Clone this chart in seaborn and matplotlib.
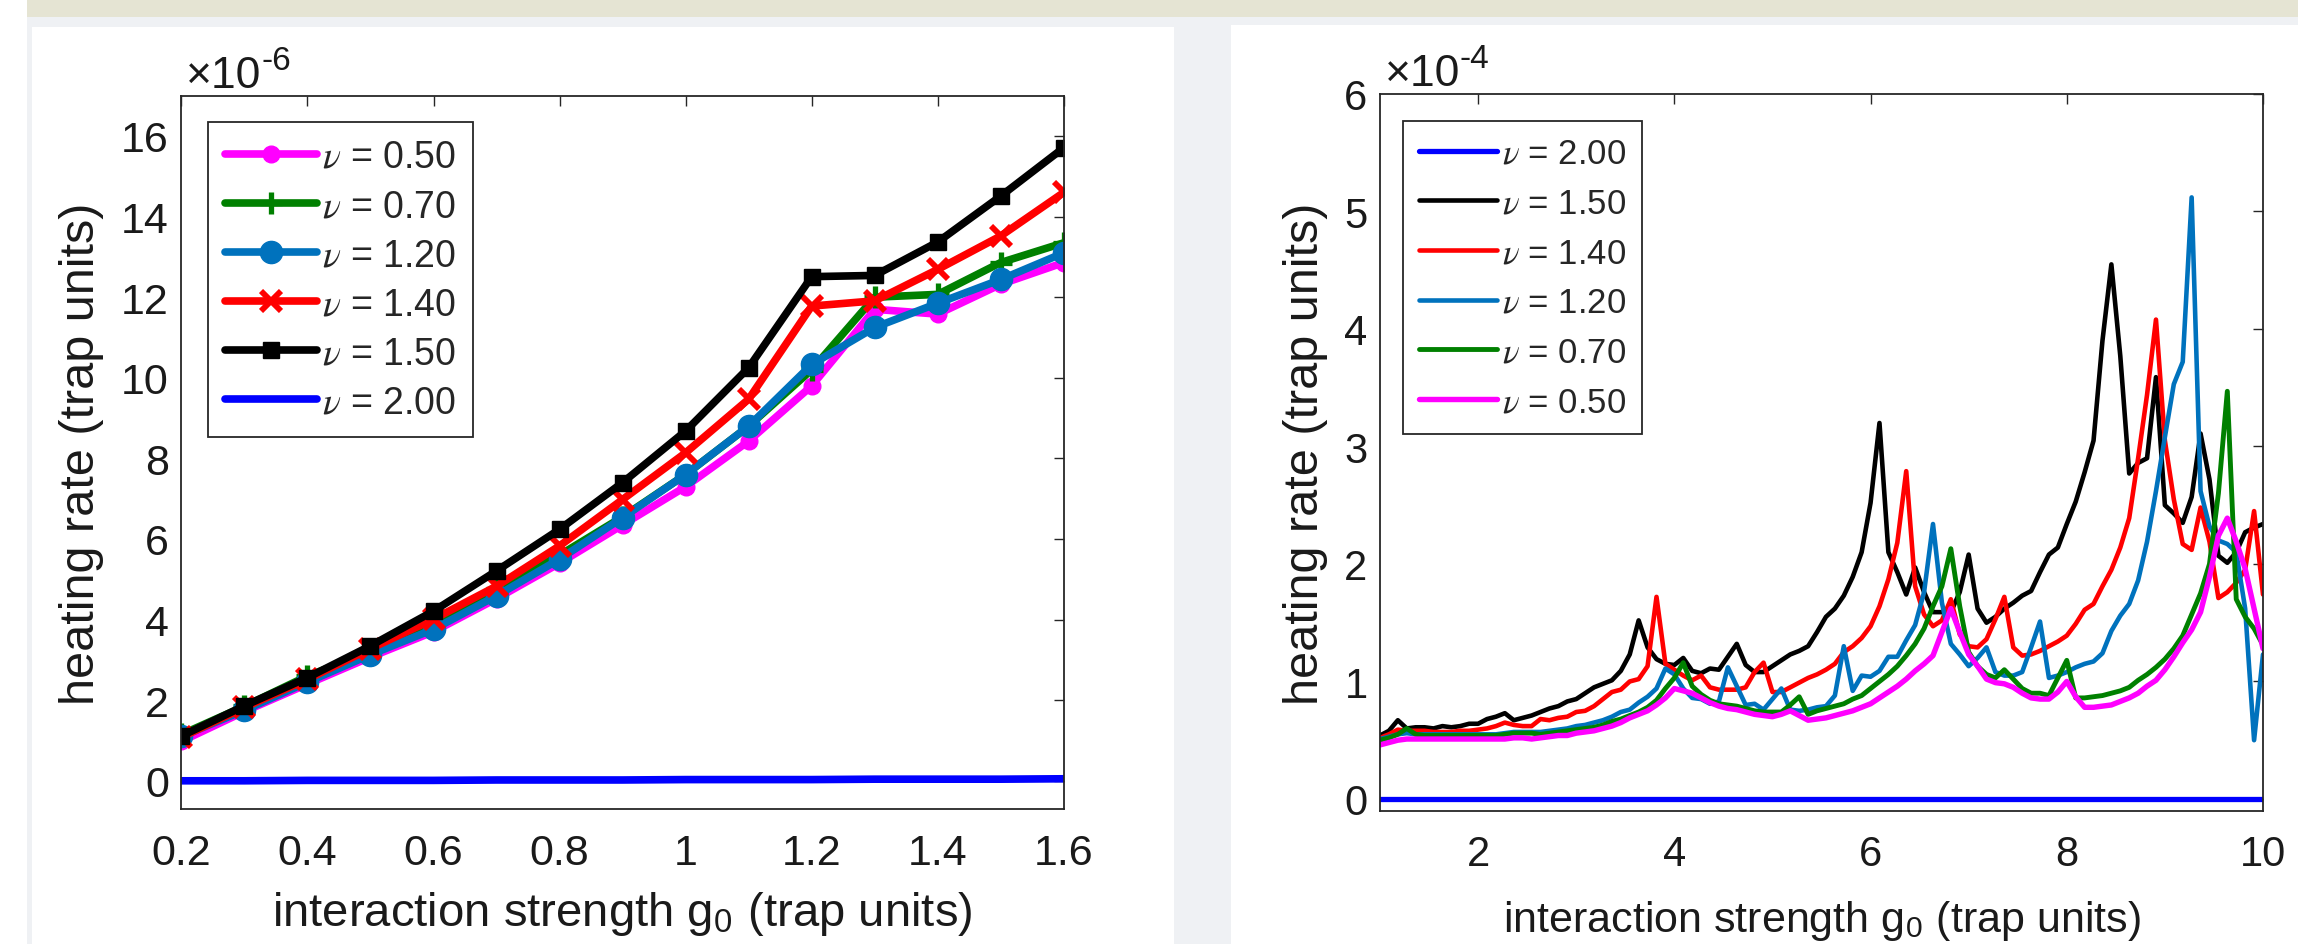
import numpy as np
import matplotlib
matplotlib.use("Agg")
import matplotlib.pyplot as plt
from matplotlib.patches import Rectangle
import seaborn as sns

# ---- left panel: heating rate (x1e-6, trap units) vs interaction strength g0
g_left = [0.2, 0.3, 0.4, 0.5, 0.6, 0.7, 0.8, 0.9, 1.0, 1.1, 1.2, 1.3, 1.4, 1.5, 1.6]
left_nu050 = [0.98, 1.72, 2.40, 3.07, 3.70, 4.52, 5.40, 6.35, 7.30, 8.43, 9.80, 11.70, 11.58, 12.32, 12.86]
left_nu070 = [1.15, 1.85, 2.60, 3.20, 3.90, 4.75, 5.60, 6.55, 7.60, 8.80, 10.20, 12.00, 12.07, 12.86, 13.35]
left_nu120 = [1.10, 1.75, 2.45, 3.13, 3.76, 4.59, 5.50, 6.53, 7.60, 8.80, 10.33, 11.25, 11.85, 12.44, 13.10]
left_nu140 = [1.08, 1.82, 2.52, 3.28, 4.01, 4.83, 5.83, 6.98, 8.14, 9.47, 11.78, 11.91, 12.69, 13.52, 14.60]
left_nu150 = [1.11, 1.86, 2.56, 3.35, 4.21, 5.21, 6.24, 7.40, 8.68, 10.25, 12.51, 12.54, 13.37, 14.51, 15.71]
left_nu200 = [0.00, 0.00, 0.01, 0.01, 0.01, 0.02, 0.02, 0.02, 0.03, 0.03, 0.03, 0.04, 0.04, 0.04, 0.05]

# ---- right panel: heating rate (x1e-4, trap units), 100 samples of g0 in [1, 10]
g_right = np.linspace(1, 10, 100)
right_nu200 = [0.0] * 100  # flat at zero over the whole range
right_nu150 = [
    0.54, 0.58, 0.67, 0.60, 0.61, 0.61, 0.60, 0.62, 0.61, 0.62,
    0.64, 0.64, 0.68, 0.70, 0.73, 0.67, 0.69, 0.71, 0.74, 0.77,
    0.79, 0.83, 0.85, 0.90, 0.95, 0.98, 1.01, 1.09, 1.23, 1.52,
    1.29, 1.19, 1.15, 1.14, 1.20, 1.09, 1.07, 1.11, 1.10, 1.21,
    1.32, 1.14, 1.08, 1.08, 1.13, 1.18, 1.23, 1.26, 1.30, 1.42,
    1.55, 1.62, 1.73, 1.89, 2.10, 2.52, 3.20, 2.10, 1.93, 1.74,
    1.97, 1.76, 1.59, 1.59, 1.59, 1.76, 2.08, 1.62, 1.50, 1.55,
    1.62, 1.67, 1.73, 1.77, 1.93, 2.08, 2.14, 2.34, 2.53, 2.78,
    3.05, 3.90, 4.55, 3.77, 2.77, 2.86, 2.90, 3.59, 2.50, 2.43,
    2.35, 2.57, 3.11, 2.72, 2.07, 2.01, 2.10, 2.27, 2.31, 2.34]
right_nu140 = [
    0.52, 0.55, 0.59, 0.58, 0.58, 0.58, 0.57, 0.57, 0.57, 0.58,
    0.58, 0.59, 0.60, 0.62, 0.65, 0.63, 0.62, 0.62, 0.68, 0.67,
    0.69, 0.70, 0.74, 0.75, 0.79, 0.85, 0.91, 0.93, 1.00, 1.02,
    1.13, 1.72, 1.15, 1.10, 1.05, 1.01, 1.05, 0.95, 0.93, 0.93,
    0.93, 0.95, 1.08, 1.16, 0.91, 0.91, 0.95, 0.99, 1.03, 1.06,
    1.10, 1.15, 1.25, 1.30, 1.37, 1.47, 1.64, 1.87, 2.18, 2.79,
    1.81, 1.57, 1.47, 1.52, 1.70, 1.40, 1.30, 1.29, 1.36, 1.53,
    1.72, 1.29, 1.22, 1.23, 1.26, 1.30, 1.34, 1.39, 1.49, 1.61,
    1.66, 1.81, 1.95, 2.14, 2.39, 2.90, 3.44, 4.08, 3.05, 2.55,
    2.17, 2.12, 2.48, 2.19, 1.71, 1.76, 1.84, 1.95, 2.45, 1.74]
right_nu120 = [
    0.51, 0.53, 0.55, 0.56, 0.55, 0.55, 0.55, 0.55, 0.55, 0.55,
    0.55, 0.55, 0.55, 0.55, 0.56, 0.57, 0.57, 0.57, 0.57, 0.58,
    0.59, 0.60, 0.62, 0.63, 0.65, 0.67, 0.70, 0.74, 0.76, 0.82,
    0.87, 0.94, 1.11, 1.06, 0.94, 0.86, 0.85, 0.81, 0.83, 1.12,
    0.96, 0.80, 0.81, 0.76, 0.85, 0.94, 0.76, 0.75, 0.76, 0.78,
    0.79, 0.88, 1.30, 0.92, 1.05, 1.04, 1.09, 1.21, 1.21, 1.35,
    1.48, 1.76, 2.34, 1.67, 1.32, 1.23, 1.13, 1.20, 1.29, 1.08,
    1.05, 1.05, 1.08, 1.29, 1.51, 1.03, 1.05, 1.08, 1.12, 1.15,
    1.17, 1.24, 1.43, 1.56, 1.66, 1.86, 2.19, 2.62, 3.08, 3.53,
    3.72, 5.12, 2.62, 2.32, 2.20, 2.17, 2.10, 1.62, 0.50, 1.23]
right_nu070 = [
    0.50, 0.52, 0.55, 0.60, 0.55, 0.54, 0.54, 0.54, 0.54, 0.54,
    0.54, 0.54, 0.54, 0.54, 0.55, 0.56, 0.56, 0.56, 0.55, 0.56,
    0.57, 0.58, 0.59, 0.60, 0.61, 0.63, 0.66, 0.68, 0.71, 0.74,
    0.78, 0.84, 0.94, 1.03, 1.16, 0.96, 0.89, 0.84, 0.81, 0.80,
    0.79, 0.77, 0.75, 0.74, 0.74, 0.74, 0.80, 0.87, 0.72, 0.75,
    0.77, 0.79, 0.81, 0.85, 0.88, 0.94, 1.00, 1.06, 1.13, 1.22,
    1.32, 1.45, 1.64, 1.81, 2.13, 1.64, 1.25, 1.13, 1.06, 1.03,
    1.10, 1.02, 0.94, 0.90, 0.90, 0.88, 1.03, 1.18, 0.86, 0.86,
    0.87, 0.88, 0.90, 0.92, 0.95, 1.01, 1.06, 1.12, 1.19, 1.28,
    1.39, 1.57, 1.75, 2.00, 2.60, 3.47, 1.70, 1.55, 1.45, 1.31]
right_nu050 = [
    0.46, 0.48, 0.50, 0.51, 0.51, 0.51, 0.51, 0.51, 0.51, 0.51,
    0.51, 0.51, 0.51, 0.51, 0.51, 0.52, 0.52, 0.51, 0.52, 0.53,
    0.54, 0.54, 0.56, 0.57, 0.58, 0.60, 0.62, 0.65, 0.69, 0.72,
    0.75, 0.80, 0.86, 0.94, 0.92, 0.90, 0.86, 0.82, 0.79, 0.77,
    0.76, 0.74, 0.72, 0.71, 0.70, 0.72, 0.75, 0.71, 0.67, 0.68,
    0.69, 0.71, 0.73, 0.75, 0.78, 0.81, 0.86, 0.91, 0.96, 1.02,
    1.09, 1.15, 1.22, 1.42, 1.62, 1.42, 1.23, 1.13, 1.02, 0.99,
    0.98, 0.95, 0.90, 0.86, 0.85, 0.85, 0.91, 1.00, 0.87, 0.78,
    0.78, 0.79, 0.80, 0.83, 0.86, 0.90, 0.96, 1.01, 1.10, 1.21,
    1.33, 1.44, 1.59, 1.89, 2.24, 2.39, 2.19, 1.96, 1.62, 1.28]

MAGENTA, GREEN, MBLUE, RED, BLACK, BLUE = "#FF00FF", "#008000", "#0072BD", "#FF0000", "#000000", "#0000FF"
AX_COL = "#262626"
TXT_COL = "#1a1a1a"

sns.set_theme(style="white")
plt.rcParams["font.family"] = ["Liberation Sans", "DejaVu Sans"]
plt.rcParams["mathtext.fontset"] = "stix"

W, H = 2298, 945
fig = plt.figure(figsize=(W / 100, H / 100), dpi=100, facecolor="white")

# page background behind the two images
for x0, y0, w, h, c in [(27, 17.5, W - 27, H - 17.5, "#EFF1F4"),
                        (27, 0, W - 27, 17.5, "#E5E4D3"),
                        (32, 28, 1142, H - 28, "white"),
                        (1231, 26, W - 1231, H - 26, "white")]:
    fig.add_artist(Rectangle((x0 / W, 1 - (y0 + h) / H), w / W, h / H,
                             transform=fig.transFigure, color=c, zorder=-10, lw=0))

ax1 = fig.add_axes([181.4 / W, 1 - 810 / H, 882.4 / W, 713.3 / H])
ax2 = fig.add_axes([1380 / W, 1 - 811.7 / H, 883 / W, 716.7 / H])


def nu_label(v):
    return r"$\nu$ = " + v


left_series = [
    (left_nu050, MAGENTA, "0.50", dict(marker="o", markersize=12)),
    (left_nu070, GREEN, "0.70", dict(marker="+", markersize=16, markeredgewidth=3.8)),
    (left_nu120, MBLUE, "1.20", dict(marker="o", markersize=16)),
    (left_nu140, RED, "1.40", dict(marker="x", markersize=14, markeredgewidth=4.2)),
    (left_nu150, BLACK, "1.50", dict(marker="s", markersize=11.5)),
    (left_nu200, BLUE, "2.00", dict()),
]
for vals, col, lab, kw in left_series:
    sns.lineplot(x=g_left, y=vals, ax=ax1, color=col, label=nu_label(lab),
                 estimator=None, sort=False, markeredgecolor=col, **kw)
    line = ax1.lines[-1]
    line.set_linewidth(5.5)
    if "markeredgewidth" not in kw:
        line.set_markeredgewidth(1.0)

right_series = [
    (right_nu200, BLUE, "2.00", 3.8),
    (right_nu150, BLACK, "1.50", 3.3),
    (right_nu140, RED, "1.40", 3.3),
    (right_nu120, MBLUE, "1.20", 3.3),
    (right_nu070, GREEN, "0.70", 3.5),
    (right_nu050, MAGENTA, "0.50", 3.9),
]
for vals, col, lab, lw in right_series:
    sns.lineplot(x=g_right, y=vals, ax=ax2, color=col, label=nu_label(lab),
                 estimator=None, sort=False)
    ax2.lines[-1].set_linewidth(lw)

ax1.set_xlim(0.2, 1.6)
ax1.set_ylim(-0.7, 17)
ax1.set_xticks([0.2, 0.4, 0.6, 0.8, 1.0, 1.2, 1.4, 1.6])
ax1.set_xticklabels(["0.2", "0.4", "0.6", "0.8", "1", "1.2", "1.4", "1.6"])
ax1.set_yticks(range(0, 17, 2))

ax2.set_xlim(1, 10)
ax2.set_ylim(-0.1, 6)
ax2.set_xticks([2, 4, 6, 8, 10])
ax2.set_yticks(range(0, 7))

xlab = r"interaction strength g$_\mathregular{0}$ (trap units)"
panel_style = [
    # ax, tick size, xlabel size, xlabel pad, legend size, handle length, spacing, anchor, exponent
    (ax1, 31, 34, 12, 27, 2.45, 0.35, (0.030, 0.963), "-6"),
    (ax2, 30, 31, 17, 25, 2.25, 0.48, (0.026, 0.962), "-4"),
]
for ax, tsize, xsize, xpad, lsize, hlen, lspace, anchor, expo in panel_style:
    for s in ax.spines.values():
        s.set_visible(True)
        s.set_color(AX_COL)
        s.set_linewidth(1.3)
    ax.tick_params(direction="in", length=7, width=1.0, color=AX_COL, top=True, right=True,
                   labelsize=tsize, labelcolor=TXT_COL)
    ax.tick_params(axis="x", pad=17)
    ax.tick_params(axis="y", pad=9)
    ax.set_xlabel(xlab, fontsize=xsize, color=TXT_COL, labelpad=xpad)
    ax.set_ylabel("heating rate (trap units)", fontsize=35, color=TXT_COL, labelpad=12)
    leg = ax.legend(loc="upper left", bbox_to_anchor=anchor, borderaxespad=0, fontsize=lsize,
                    frameon=True, fancybox=False, edgecolor=AX_COL, framealpha=1,
                    handlelength=hlen, handletextpad=0.15, labelspacing=lspace, borderpad=0.45,
                    numpoints=1)
    leg.get_frame().set_linewidth(1.3)
    # MATLAB-style exponent above the y axis
    t = ax.text(0.005, 1.012, "\u00d710", transform=ax.transAxes, fontsize=32,
                color=TXT_COL, ha="left", va="baseline")
    ax.annotate(expo, xy=(1.0, 0.5), xycoords=t, fontsize=24, color=TXT_COL,
                ha="left", va="bottom")

fig.savefig("out.png", dpi=100)
